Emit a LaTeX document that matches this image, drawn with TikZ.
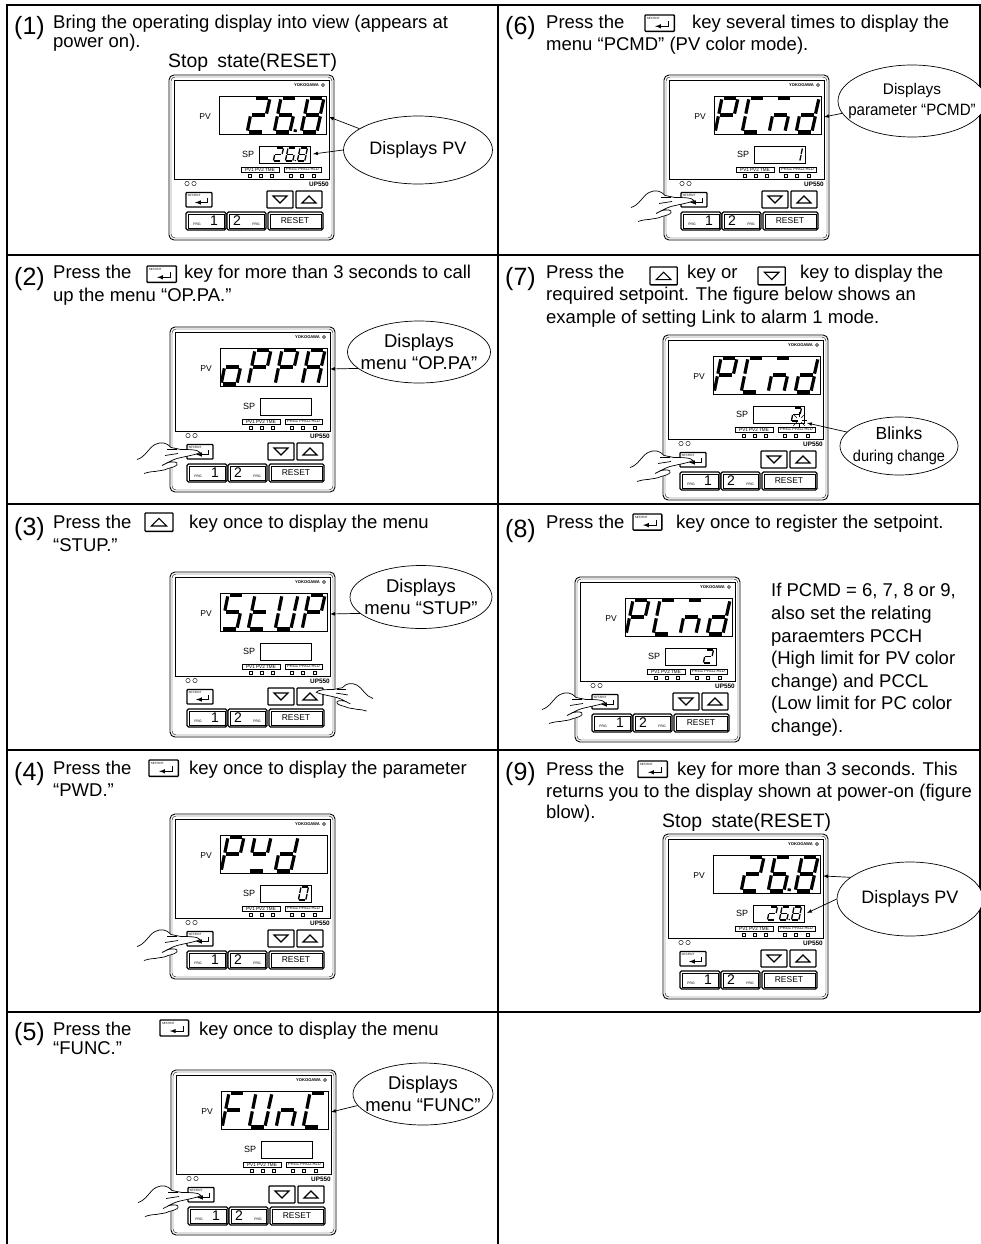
\documentclass[tikz,border=0pt]{standalone}
\usepackage{fontspec}
\setmainfont{Liberation Sans}
\newfontfamily\narrowfont[FakeStretch=0.92]{Liberation Sans}
\usetikzlibrary{shapes.geometric}

\newcommand{\fsz}[1]{\fontsize{#1}{#1}\selectfont}

% segments of one figure
\tikzset{
    sega/.style={insert path={(.1,0) -- (.9,0)}},
    segb/.style={insert path={(1,.08) -- (.98,.92)}},
    segc/.style={insert path={(1,1.08) -- (.98,1.92)}},
    segd/.style={insert path={(.9,2) -- (.1,2)}},
    sege/.style={insert path={(0,1.92) -- (0,1.08)}},
    segf/.style={insert path={(0,.92) -- (0,.08)}},
    segg/.style={insert path={(.1,1) -- (.9,1)}},
    segp/.style={insert path={(1.3,1.85) -- (1.3,2)}},
}
\def\dgtzero{a,b,c,d,e,f}
\def\dgtone{b,c}
\def\dgttwo{a,b,g,e,d}
\def\dgtsix{a,f,g,e,d,c}
\def\dgtsixp{a,f,g,e,d,c,p}
\def\dgteight{a,b,c,d,e,f,g}
\def\dgtA{a,b,c,e,f,g}
\def\dgtC{a,f,e,d}
\def\dgtF{a,f,e,g}
\def\dgtL{f,e,d}
\def\dgtM{a,e,c,g}
\def\dgtP{a,b,f,e,g}
\def\dgtS{a,f,g,c,d}
\def\dgtU{f,b,c,d,e}
\def\dgtW{g,b,f,d}
\def\dgtd{b,c,d,e,g}
\def\dgtn{e,c,g}
\def\dgto{e,g,c,d}
\def\dgtt{f,e,d,g}

\newcommand{\pvread}[2]{%
    \foreach \ch [count=\idx from #1] in {#2} {%
        \edef\seglist{\csname dgt\ch\endcsname}%
        \begin{scope}[shift={(58+\idx*27,23)}, xslant=.2, x=16pt, y=-17pt, line width=3.2pt]
            \foreach \sg in \seglist {\draw[seg\sg];}
        \end{scope}
    }%
}
\newcommand{\spread}[2]{%
    \foreach \ch [count=\idx from #1] in {#2} {%
        \edef\seglist{\csname dgt\ch\endcsname}%
        \begin{scope}[shift={(95+\idx*12,73)}, xslant=.2, x=7.5pt, y=-6.5pt, line width=1.3pt]
            \foreach \sg in \seglist {\draw[seg\sg];}
        \end{scope}
    }%
}

\newcommand{\devicebody}{%
    \draw[line width=.9pt, rounded corners=5pt] (0,0) rectangle (165,165);
    \draw[line width=.4pt, rounded corners=4pt] (2,2) rectangle (163,163);
    \draw[line width=.7pt] (5,5) rectangle (160,104);
    \node[tiny text, font=\fsz{4.1}\bfseries, anchor=east] (-logo) at (150,10) {YOKOGAWA};
    \draw[line width=.5pt] (152.5,10) -- (154,8.5) -- (155.5,10) -- (154,11.5) -- cycle;
    \node[tiny text, font=\fsz{8.5}] (-pvlabel) at (36,42) {PV};
    \node[tiny text, font=\fsz{9}] (-splabel) at (79,79) {SP};
    \draw[line width=.7pt] (50,21) rectangle (157,59);
    \draw[line width=.7pt] (90,71) rectangle (141,88);
    \coordinate (-pv) at (160,42);
    \coordinate (-sp) at (144,79);
    \node[tiny text, font=\fsz{4.6}, draw, line width=.4pt, minimum width=38pt, minimum height=5pt] (-ledl) at (91,94.5) {PV1 PV2 TME};
    \node[tiny text, font=\fsz{4.1}, draw, line width=.4pt, minimum width=37pt, minimum height=5pt] (-ledr) at (133.5,94.5) {PRG1 PRG2 HLD};
    \foreach \lx in {81,92,103,122,133,145} {
        \draw[line width=.6pt] (\lx-1.3,99.5) rectangle (\lx+1.3,102.5);
    }
    \draw[line width=.4pt] (18,108.5) circle (2.2pt) (25,108.5) circle (2.2pt);
    \node[tiny text, font=\fsz{6.4}\bfseries, anchor=east] (-model) at (160,109) {UP550};
    \pic (-setkey) at (17,117.5) {setkey};
    \coordinate (-setpos) at (17,117.5);
    \pic (-down) at (98,116) {downkey};
    \pic (-up) at (127,116) {upkey};
    \foreach \bx/\bw in {17/40,58/39,99/55} {
        \draw[line width=1.1pt, rounded corners=1.5pt] (\bx,137) rectangle ++(\bw,18);
        \draw[line width=.4pt] (\bx+2,139) rectangle ++(\bw-4,14);
    }
    \node[tiny text, font=\fsz{3.4}] (-prgl) at (28,149) {PRG};
    \node[tiny text, font=\fsz{14}] (-one) at (45,145.5) {1};
    \node[tiny text, font=\fsz{14}] (-two) at (68,145.5) {2};
    \node[tiny text, font=\fsz{3.4}] (-prgr) at (87,149) {PRG};
    \node[tiny text, font=\fsz{8.5}] (-reset) at (126,145.5) {RESET};
}

\tikzset{
    x=1pt, y=-1pt,
    tiny text/.style={inner sep=0pt},
    steptext/.style={anchor=base west, inner sep=0pt, font=\fsz{18.5}},
    stepnum/.style={anchor=base west, inner sep=0pt, font=\fsz{25}},
    statetext/.style={anchor=base west, inner sep=0pt, font=\fsz{19.4}},
    callout/.style={draw, ellipse, line width=.7pt, inner sep=0pt, fill=white},
    calltext/.style={inner sep=0pt, align=center, font=\fsz{18.5}},
    pointer/.style={line width=.7pt, -latex},
    handpath/.style={insert path={(-50,15) .. controls (-42,13) and (-38,3) .. (-32,0)
        .. controls (-26,-3) and (-20,-2) .. (-16,3) -- (-6,5) .. controls (2,5) and (11,5) .. (13,8)
        .. controls (10,10) and (-2,12) .. (-10,14) .. controls (-13,15) and (-16,16) .. (-19,18)
        .. controls (-14,17) and (-9,17) .. (-10,20) .. controls (-11,22) and (-15,23) .. (-19,24)
        .. controls (-22,26) and (-28,26) .. (-32,27) .. controls (-36,27) and (-40,28) .. (-43,29)}},
    pics/hand/.style={code={
        \fill[white, handpath] -- cycle;
        \draw[line width=.7pt, handpath];
        \draw[line width=.7pt] (-20,5) -- (-10,5) (-22,11) -- (-9,9) (-19,18) -- (-25,21);
    }},
    pics/setkey/.style={code={
        \draw[line width=1.3pt, rounded corners=.8pt] (0,0) rectangle (26,14.5);
        \node[tiny text, font=\fsz{3}, anchor=north west] (-label) at (1.5,1.5) {SET/ENT};
        \draw[line width=1pt, -latex] (21,5.5) -- (21,10) -- (9,10);
    }},
    pics/upkey/.style={code={
        \draw[line width=1.3pt, rounded corners=.8pt] (0,0) rectangle (26,17);
        \draw[line width=1.1pt] (6,12) -- (13,5) -- (20,12) -- cycle;
    }},
    pics/downkey/.style={code={
        \draw[line width=1.3pt, rounded corners=.8pt] (0,0) rectangle (26,17);
        \draw[line width=1.1pt] (6,5) -- (13,12) -- (20,5) -- cycle;
    }},
    pics/device/.style={code={\devicebody #1}},
}

\begin{document}
\begin{tikzpicture}
    \useasboundingbox (0,0) rectangle (981,1244);
    \draw[line width=1.4pt] (7,1244) -- (7,5) -- (980,5) -- (980,1012);
    \draw[line width=1.4pt] (498,5) -- (498,1244);
    \foreach \ry in {255,504,750,1012} {
        \draw[line width=1.4pt] (7,\ry) -- (980,\ry);
    }

    \node[stepnum] (n1) at (14,35) {(1)};
    \node[steptext] (t1a) at (53,28.5) {Bring the operating display into view (appears at};
    \node[steptext] (t1b) at (53,47.5) {power on).};
    \node[statetext] (s1) at (168,68) {Stop\hspace{4pt} state(RESET)};
    \pic (d1) at (169,75) {device={\pvread{1}{two,sixp,eight}\spread{1}{two,sixp,eight}}};
    \node[callout, minimum width=149pt, minimum height=68pt] (c1) at (418,150) {};
    \node[calltext, font=\fsz{18}] (c1t) at (c1) {Displays PV};
    \draw[pointer] (c1.160) -- (d1-pv);
    \draw[pointer] (c1.180) -- (d1-sp);

    \node[stepnum] (n2) at (14,285) {(2)};
    \node[steptext] (t2a) at (53,278) {Press the};
    \pic[scale=1.13] (k2) at (147,266) {setkey};
    \node[steptext] (t2b) at (184,278) {key for more than 3 seconds to call};
    \node[steptext] (t2c) at (53,301) {up the menu “OP.PA.”};
    \pic (d2) at (170,327) {device={\pvread{0}{o,P,P,A}}};
    \pic at (d2-setpos) {hand};
    \node[callout, minimum width=143pt, minimum height=62pt] (c2) at (419,352) {};
    \node[calltext] (c2t) at (c2) {Displays\\[3pt]menu “OP.PA”};
    \draw[pointer] (c2.195) -- (d2-pv);

    \node[stepnum] (n3) at (14,535) {(3)};
    \node[steptext] (t3a) at (53,528) {Press the};
    \pic[scale=1.08] (k3) at (145,513) {upkey};
    \node[steptext] (t3b) at (189,528) {key once to display the menu};
    \node[steptext] (t3c) at (53,551) {“STUP.”};
    \pic (d3) at (170,572) {device={\pvread{0}{S,t,U,P}}};
    \coordinate (h3) at (328,685);
    \pic[xscale=-.9, yscale=.9] at (h3) {hand};
    \node[callout, minimum width=142pt, minimum height=63pt] (c3) at (421,597) {};
    \node[calltext] (c3t) at (c3) {Displays\\[3pt]menu “STUP”};
    \draw[pointer] (c3.195) -- (d3-pv);

    \node[stepnum] (n4) at (14,780) {(4)};
    \node[steptext] (t4a) at (53,774) {Press the};
    \pic[scale=1.13] (k4) at (149,760) {setkey};
    \node[steptext] (t4b) at (189,774) {key once to display the parameter};
    \node[steptext] (t4c) at (53,796) {“PWD.”};
    \pic (d4) at (170,814) {device={\pvread{0}{P,W,d}\spread{3}{zero}}};
    \pic at (d4-setpos) {hand};

    \node[stepnum] (n5) at (14,1040) {(5)};
    \node[steptext] (t5a) at (53,1035) {Press the};
    \pic[scale=1.1] (k5) at (160,1020) {setkey};
    \node[steptext] (t5b) at (199,1035) {key once to display the menu};
    \node[steptext] (t5c) at (53,1054) {“FUNC.”};
    \pic (d5) at (171,1070) {device={\pvread{0}{F,U,n,C}}};
    \pic at (d5-setpos) {hand};
    \node[callout, minimum width=140pt, minimum height=62pt] (c5) at (423,1094) {};
    \node[calltext] (c5t) at (c5) {Displays\\[3pt]menu “FUNC”};
    \draw[pointer] (c5.190) -- (d5-pv);

    \node[stepnum] (n6) at (505,35) {(6)};
    \node[steptext] (t6a) at (546,29) {Press the};
    \pic[scale=1.13] (k6) at (645,15) {setkey};
    \node[steptext] (t6b) at (692,29) {key several times to display the};
    \node[steptext] (t6c) at (546,51) {menu “PCMD” (PV color mode).};
    \pic (d6) at (664,75) {device={\pvread{0}{P,C,M,d}\spread{3}{one}}};
    \pic at (d6-setpos) {hand};
    \node[callout, minimum width=148pt, minimum height=72pt] (c6) at (912,101) {};
    \node[calltext, font=\fsz{15.4}] (c6t) at (c6) {Displays\\[5pt]\narrowfont\fsz{16.4}parameter “PCMD”};
    \draw[pointer] (c6.190) -- (d6-pv);

    \node[stepnum] (n7) at (505,285) {(7)};
    \node[steptext] (t7a) at (546,278) {Press the};
    \pic[scale=1.05] (k7u) at (650,267) {upkey};
    \node[steptext] (t7b) at (687,278) {key or};
    \pic[scale=1.05] (k7d) at (758,267) {downkey};
    \node[steptext] (t7c) at (800,278) {key to display the};
    \node[steptext] (t7d) at (546,300) {required setpoint. The figure below shows an};
    \node[steptext] (t7e) at (546,323) {example of setting Link to alarm 1 mode.};
    \pic (d7) at (663,335) {device={\pvread{0}{P,C,M,d}\spread{3}{two}
        \foreach \bl in {0,45,...,315} {\draw[line width=.5pt] (136,85) ++(\bl:3) -- ++(\bl:5);}
        \coordinate (-blink) at (144,88);}};
    \pic at (d7-setpos) {hand};
    \node[callout, minimum width=118pt, minimum height=58pt] (c7) at (899,446) {};
    \node[calltext] (c7t) at (c7) {\fsz{17.5}Blinks\\[3pt]\narrowfont\fsz{15.8}during change};
    \draw[pointer] (c7.165) -- (d7-blink);

    \node[stepnum] (n8) at (505,537) {(8)};
    \node[steptext] (t8a) at (546,528) {Press the};
    \pic[scale=1.11] (k8) at (633,514) {setkey};
    \node[steptext] (t8b) at (676,528) {key once to register the setpoint.};
    \pic (d8) at (575,577) {device={\pvread{0}{P,C,M,d}\spread{3}{two}}};
    \pic at (d8-setpos) {hand};
    \node[steptext] (t8c) at (771,596) {If PCMD = 6, 7, 8 or 9,};
    \node[steptext] (t8d) at (771,619) {also set the relating};
    \node[steptext] (t8e) at (771,642) {paraemters PCCH};
    \node[steptext] (t8f) at (771,664) {(High limit for PV color};
    \node[steptext] (t8g) at (771,687) {change) and PCCL};
    \node[steptext] (t8h) at (771,709) {(Low limit for PC color};
    \node[steptext] (t8i) at (771,732) {change).};

    \node[stepnum] (n9) at (505,780) {(9)};
    \node[steptext] (t9a) at (546,775) {Press the};
    \pic[scale=1.13] (k9) at (638,761) {setkey};
    \node[steptext] (t9b) at (677,775) {key for more than 3 seconds. This};
    \node[steptext] (t9c) at (546,797) {returns you to the display shown at power-on (figure};
    \node[steptext] (t9d) at (546,818) {blow).};
    \node[statetext] (s9) at (662,827) {Stop\hspace{4pt} state(RESET)};
    \pic (d9) at (663,834) {device={\pvread{1}{two,sixp,eight}\spread{1}{two,sixp,eight}}};
    \node[callout, minimum width=146pt, minimum height=74pt] (c9) at (910,899) {};
    \node[calltext, font=\fsz{18}] (c9t) at (c9) {Displays PV};
    \draw[pointer] (c9.180) -- (d9-sp);
    \draw[pointer] (c9.160) -- (d9-pv);
\end{tikzpicture}
\end{document}
